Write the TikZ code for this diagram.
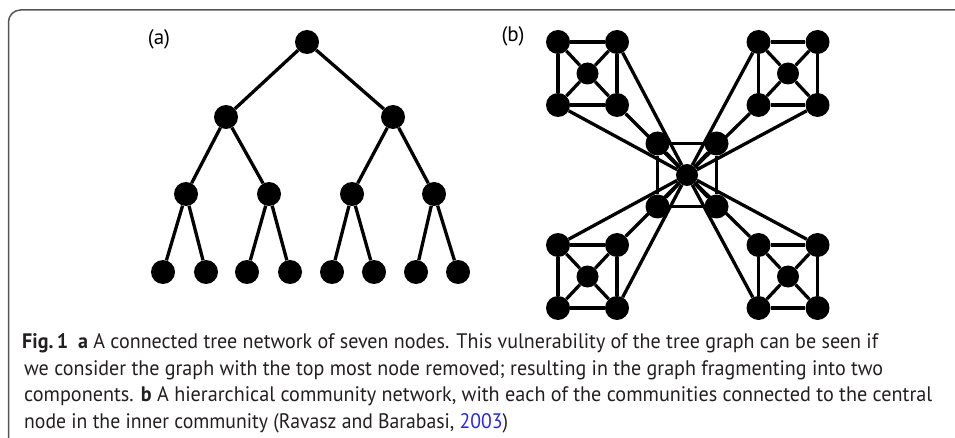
\documentclass[tikz,border=0pt]{standalone}
\usepackage{fontspec}
\setmainfont{PT Sans}
\usepackage{graphicx}
\definecolor{linkblue}{RGB}{40,40,230}
\definecolor{framegray}{RGB}{85,85,85}
\definecolor{captext}{RGB}{35,31,32}
\begin{document}
\begin{tikzpicture}[x=1pt,y=-1pt,
  vtx/.style={circle,fill=black,inner sep=0pt,minimum size=24pt},
  hub/.style={circle,fill=black,inner sep=0pt,minimum size=22pt},
  edge/.style={line width=3.3pt},
  panellabel/.style={inner sep=0pt,font=\fontsize{21}{24}\selectfont},
  capline/.style={anchor=base west,inner sep=0pt,font=\fontsize{21}{24}\selectfont,text=captext}]
\useasboundingbox (0,0) rectangle (955,438);
% frame
\draw[framegray,line width=1.5pt,rounded corners=12pt] (8.5,460) -- (8.5,10) -- (980,10);
% panel labels
\node[panellabel] (la) at (159,39) {(a)};
\node[panellabel] (lb) at (513,36) {(b)};
% tree
\node[vtx] (r) at (307,42) {};
\node[vtx] (a1) at (226,117) {};
\node[vtx] (a2) at (393,117) {};
\node[vtx] (b1) at (186,194) {};
\node[vtx] (b2) at (269,194) {};
\node[vtx] (b3) at (352,194) {};
\node[vtx] (b4) at (434,194) {};
\node[vtx] (c1) at (163,272) {};
\node[vtx] (c2) at (206,272) {};
\node[vtx] (c3) at (247,272) {};
\node[vtx] (c4) at (290,272) {};
\node[vtx] (c5) at (332,272) {};
\node[vtx] (c6) at (374,272) {};
\node[vtx] (c7) at (416,272) {};
\node[vtx] (c8) at (458,272) {};
\draw[edge] (r)--(a1) (r)--(a2)
  (a1)--(b1) (a1)--(b2) (a2)--(b3) (a2)--(b4)
  (b1)--(c1) (b1)--(c2) (b2)--(c3) (b2)--(c4)
  (b3)--(c5) (b3)--(c6) (b4)--(c7) (b4)--(c8);
% communities
\foreach \n/\cx/\cy in {tl/587.5/73.5, tr/788/73.5, bl/587.5/276.5, br/788/276.5, in/687/175}{
  \node[vtx] (\n1) at (\cx-29.5,\cy-31.5) {};
  \node[vtx] (\n2) at (\cx+29.5,\cy-31.5) {};
  \node[vtx] (\n3) at (\cx-29.5,\cy+31.5) {};
  \node[vtx] (\n4) at (\cx+29.5,\cy+31.5) {};
  \node[hub] (\n c) at (\cx,\cy) {};
  \draw[edge] (\n1)--(\n2) (\n2)--(\n4) (\n4)--(\n3) (\n3)--(\n1);
  \foreach \k in {1,2,3,4} \draw[edge] (\n c)--(\n\k);
}
\draw[edge] (tl2)--(inc) (tl3)--(inc) (tl4)--(inc)
  (tr1)--(inc) (tr3)--(inc) (tr4)--(inc)
  (bl1)--(inc) (bl2)--(inc) (bl4)--(inc)
  (br1)--(inc) (br2)--(inc) (br3)--(inc);
% caption
\node[capline] (cap1) at (22,348) {\resizebox{856pt}{\height}{\textbf{Fig.\,1}\enspace\textbf{a} A connected tree network of seven nodes. This vulnerability of the tree graph can be seen if}};
\node[capline] (cap2) at (24,375) {\resizebox{859pt}{\height}{we consider the graph with the top most node removed; resulting in the graph fragmenting into two}};
\node[capline] (cap3) at (24,401.5) {\resizebox{908pt}{\height}{components. \textbf{b} A hierarchical community network, with each of the communities connected to the central}};
\node[capline] (cap4) at (24,428) {\resizebox{484pt}{\height}{node in the inner community (Ravasz and Barabasi, \textcolor{linkblue}{2003})}};
\end{tikzpicture}
\end{document}
